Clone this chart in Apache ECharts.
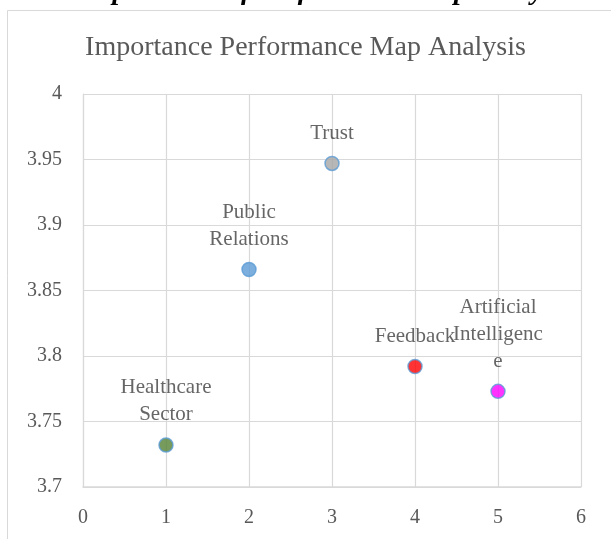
<!DOCTYPE html>
<html>
<head>
<meta charset="utf-8">
<script src="https://cdn.jsdelivr.net/npm/echarts@6/dist/echarts.min.js"></script>
<style>
  html, body { margin: 0; padding: 0; background: #fff; }
  #chart { width: 611px; height: 539px; }
</style>
</head>
<body>
<div id="chart"></div>
<script>
// Importance-performance map: one point per construct.
var names = ["Healthcare Sector", "Public Relations", "Trust", "Feedback", "Artificial Intelligence"];
var importance = [1, 2, 3, 4, 5];
var performance = [3.732, 3.866, 3.947, 3.792, 3.773];
var fills = ["#548235", "#5B9BD5", "#A5A5A5", "#FF0000", "#FF00FF"];

var xTicks = { min: 0, max: 6, interval: 1 };
var yTicks = { min: 3.7, max: 4, interval: 0.05 };

// Excel wrapped some labels inside a narrow box; mimic that here.
var labelText = {
  "Healthcare Sector": "Healthcare\nSector",
  "Public Relations": "Public\nRelations",
  "Artificial Intelligence": "Artificial\nIntelligenc\ne"
};

var serif = "'Liberation Serif', 'DejaVu Serif', serif";

var points = names.map(function (n, i) {
  return {
    name: n,
    value: [importance[i], performance[i]],
    itemStyle: { color: fills[i] }
  };
});

var chart = echarts.init(document.getElementById("chart"));
chart.setOption({
  animation: false,
  title: {
    text: "Importance Performance Map Analysis",
    left: "center",
    top: 29,
    textStyle: { fontFamily: serif, fontSize: 28, fontWeight: "normal", color: "#595959" }
  },
  graphic: [
    {
      type: "rect",
      shape: { x: 7.5, y: 10.5, width: 700, height: 600 },
      style: { fill: "#fff", stroke: "#d9d9d9", lineWidth: 1 },
      z: -10
    },
    {
      type: "text",
      left: "center",
      top: -22,
      style: {
        text: "1.6. Importance Of Performance Map Analysis.",
        font: "italic bold 28px " + serif,
        fill: "#000"
      }
    }
  ],
  grid: { left: 83, right: 30, top: 94, bottom: 52 },
  xAxis: {
    type: "value",
    min: xTicks.min, max: xTicks.max, interval: xTicks.interval,
    axisLine: { lineStyle: { color: "#d9d9d9", width: 1.5 } },
    axisTick: { show: false },
    splitLine: { lineStyle: { color: "#d9d9d9", width: 1.2 } },
    axisLabel: { margin: 21, fontFamily: serif, fontSize: 20, color: "#595959" }
  },
  yAxis: {
    type: "value",
    min: yTicks.min, max: yTicks.max, interval: yTicks.interval,
    axisLine: { show: true, lineStyle: { color: "#d9d9d9", width: 1.2 } },
    axisTick: { show: false },
    splitLine: { lineStyle: { color: "#d9d9d9", width: 1.2 } },
    axisLabel: { margin: 21, fontFamily: serif, fontSize: 20, color: "#595959" }
  },
  series: [{
    type: "scatter",
    symbol: "circle",
    symbolSize: 14,
    itemStyle: { borderColor: "#5B9BD5", borderWidth: 1.5 },
    label: {
      show: true,
      position: "top",
      distance: 9,
      fontFamily: serif,
      fontSize: 21,
      lineHeight: 27,
      color: "#404040",
      formatter: function (p) { return labelText[p.name] || p.name; }
    },
    data: points
  }]
});
</script>
</body>
</html>
